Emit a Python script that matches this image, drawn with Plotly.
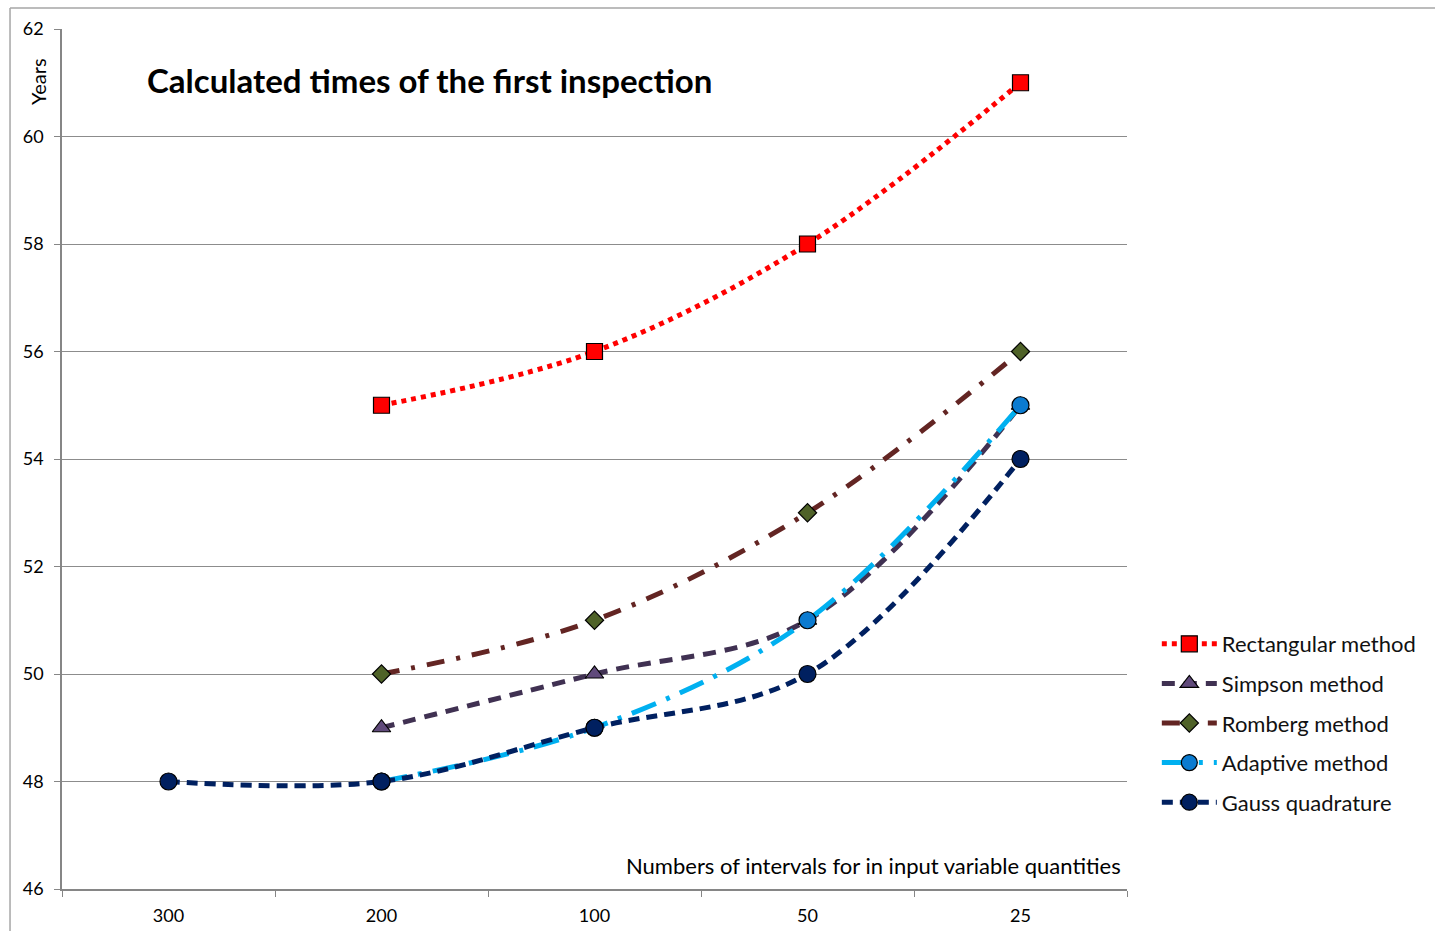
import plotly.graph_objects as go

# Number of intervals per input variable quantity (category axis)
intervals = ["300", "200", "100", "50", "25"]

# Calculated time of the first inspection, years
rectangular = [None, 55, 56, 58, 61]
simpson = [None, 49, 50, 51, 55]
romberg = [None, 50, 51, 53, 56]
adaptive = [None, 48, 49, 51, 55]
gauss = [48, 48, 49, 50, 54]

FONT = "Lato"

series = [
    ("Rectangular method", rectangular, "#FF0000", "dot", "square", "#FF0000", 16),
    ("Simpson method", simpson, "#403152", "13px,9px", "triangle-up", "#604A7B", 16),
    ("Romberg method", romberg, "#632523", "18px,12px,4px,12px", "diamond", "#4F6228", 14),
    ("Adaptive method", adaptive, "#00B0F0", "26px,11px,4px,11px", "circle", "#0B7BD0", 17),
    ("Gauss quadrature", gauss, "#002060", "11px,7px", "circle", "#002060", 17),
]

fig = go.Figure()
for i, (name, vals, lcolor, dash, symbol, mcolor, msize) in enumerate(series):
    fig.add_trace(go.Scatter(
        x=intervals, y=vals, name=name, mode="lines+markers",
        line=dict(color=lcolor, width=5, dash=dash, shape="spline", smoothing=1.0),
        marker=dict(symbol=symbol, size=msize, color=mcolor,
                    line=dict(color="#000000", width=1.2)),
        connectgaps=False, legendgroup=f"g{i}",
    ))

fig.update_layout(
    width=1435, height=931,
    margin=dict(l=62, r=308, t=29, b=42, autoexpand=False),
    paper_bgcolor="white", plot_bgcolor="white",
    font=dict(family=FONT, size=18, color="#000000"),
    showlegend=True,
    legend=dict(
        x=1.028, y=0.193, xanchor="left", yanchor="middle",
        font=dict(family=FONT, size=22, color="#111111"),
        tracegroupgap=8, itemwidth=55, bgcolor="rgba(0,0,0,0)",
    ),
    xaxis=dict(
        type="category", range=[-0.5, 4.5], automargin=False,
        showgrid=False, showline=True, linecolor="#868686", linewidth=1.5,
        ticks="outside", tickson="boundaries", ticklen=6, tickcolor="#868686",
        ticklabelstandoff=10,
        tickfont=dict(family=FONT, size=18, color="#000000"),
        zeroline=False,
    ),
    yaxis=dict(
        range=[46, 62], tick0=46, dtick=2, automargin=False,
        showgrid=True, gridcolor="#8C8C8C", gridwidth=1.2,
        showline=True, linecolor="#868686", linewidth=1.5,
        ticks="outside", ticklen=6, tickcolor="#868686",
        ticklabelstandoff=7,
        tickfont=dict(family=FONT, size=18, color="#000000"),
        zeroline=False,
    ),
    shapes=[
        # outer chart frame (top and left edges)
        dict(type="line", xref="paper", yref="paper", x0=-0.0488, x1=1.4,
             y0=1.0244, y1=1.0244, line=dict(color="#A6A6A6", width=1.5)),
        dict(type="line", xref="paper", yref="paper", x0=-0.0488, x1=-0.0488,
             y0=-0.1, y1=1.0244, line=dict(color="#A6A6A6", width=1.5)),
    ],
    annotations=[
        dict(text="Calculated times of the first inspection", xref="paper", yref="paper",
             x=(145 - 62) / 1065, y=(889 - 80) / 860, xanchor="left", yanchor="middle",
             showarrow=False, font=dict(family=FONT, size=33, color="#000000", weight="bold")),
        dict(text="Years", xref="paper", yref="paper", textangle=-90,
             x=(38 - 62) / 1065, y=(889 - 82) / 860, xanchor="center", yanchor="middle",
             showarrow=False, font=dict(family=FONT, size=20, color="#000000")),
        dict(text="Numbers of intervals for in input variable quantities", xref="paper", yref="paper",
             x=(1123 - 62) / 1065, y=(889 - 865) / 860, xanchor="right", yanchor="middle",
             showarrow=False, font=dict(family=FONT, size=22, color="#000000")),
    ],
)

fig.write_html("out.html")
